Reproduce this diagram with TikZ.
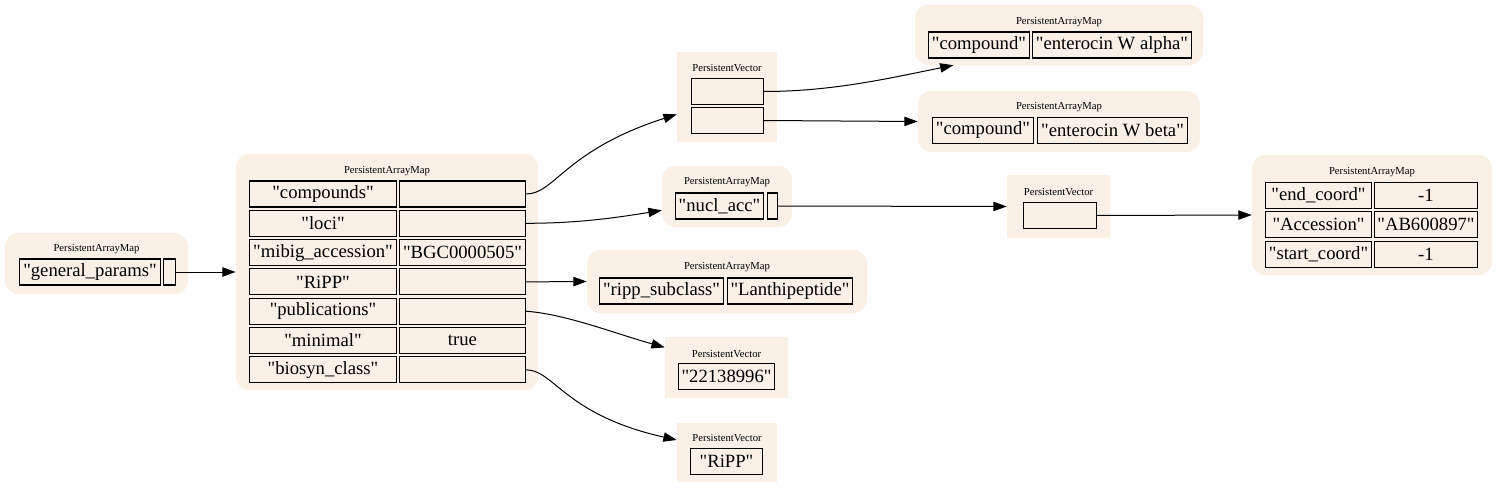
\documentclass[tikz,border=0pt]{standalone}
\usepackage{fontspec}
\setmainfont[Ligatures=TeXOff]{Liberation Serif}
\usepackage{tikz}
\usetikzlibrary{shapes}
\usetikzlibrary{arrows.meta}
\definecolor{linen}{HTML}{FAF0E6}
\tikzset{
	mapbox/.style={fill=linen, rounded corners=10pt, inner sep=0pt},
	vecbox/.style={fill=linen, inner sep=0pt},
	boxsize/.style 2 args={minimum width=#1*0.75pt, minimum height=#2*0.75pt},
	tag/.style={font=\fontsize{8pt}{9pt}\selectfont, inner sep=0pt},
	cell/.style={draw=black, fill=linen, line width=0.8pt, inner sep=0pt, minimum height=26*0.75pt, font=\fontsize{14pt}{16pt}\selectfont},
	cellw/.style={minimum width={(#1-1)*0.75pt}},
	link/.style={line width=0.75pt, -{Triangle[length=10pt,width=7pt]}}
}

\begin{document}
\begin{tikzpicture}[x=0.75pt, y=-0.75pt]
		\useasboundingbox (0,0) rectangle (1497,489);
		\node[mapbox, boxsize={183}{61}] (gpmap) at (96.5,263.5) {};
		\node[tag] (gptag) at (96.5,249) {PersistentArrayMap};
		\node[cell, cellw=142] (gpkey) at (90,272) {"general\_params"};
		\node[cell, cellw=13] (gpval) at (169.5,272) {};

		\node[mapbox, boxsize={302}{236}] (mmap) at (387,272) {};
		\node[tag] (mtag) at (387,171) {PersistentArrayMap};
		\node[cell, cellw=148] (mkcomp) at (323,194) {"compounds"};
		\node[cell, cellw=127] (mvcomp) at (462.5,194) {};
		\node[cell, cellw=148] (mkloci) at (323,223.3) {"loci"};
		\node[cell, cellw=127] (mvloci) at (462.5,223.3) {};
		\node[cell, cellw=148] (mkacc) at (323,252.6) {"mibig\_accession"};
		\node[cell, cellw=127] (mvacc) at (462.5,252.6) {"BGC0000505"};
		\node[cell, cellw=148] (mkripp) at (323,281.9) {"RiPP"};
		\node[cell, cellw=127] (mvripp) at (462.5,281.9) {};
		\node[cell, cellw=148] (mkpub) at (323,311.2) {"publications"};
		\node[cell, cellw=127] (mvpub) at (462.5,311.2) {};
		\node[cell, cellw=148] (mkmin) at (323,340.5) {"minimal"};
		\node[cell, cellw=127] (mvmin) at (462.5,340.5) {true};
		\node[cell, cellw=148] (mkclass) at (323,369.8) {"biosyn\_class"};
		\node[cell, cellw=127] (mvclass) at (462.5,369.8) {};

		\node[vecbox, boxsize={100}{90}] (vcomp) at (727,97) {};
		\node[tag] (vcomptag) at (727,68) {PersistentVector};
		\node[cell, cellw=73] (vcompa) at (727.5,91.5) {};
		\node[cell, cellw=73] (vcompb) at (727.5,120.5) {};

		\node[mapbox, boxsize={288}{60}] (amap) at (1059,35) {};
		\node[tag] (atag) at (1059,22) {PersistentArrayMap};
		\node[cell, cellw=102] (akey) at (979,45) {"compound"};
		\node[cell, cellw=160] (aval) at (1112,45) {"enterocin W alpha"};

		\node[mapbox, boxsize={282}{61}] (bmap) at (1059,121.5) {};
		\node[tag] (btag) at (1059,107) {PersistentArrayMap};
		\node[cell, cellw=102] (bkey) at (983,130.5) {"compound"};
		\node[cell, cellw=151] (bval) at (1112.5,130.5) {"enterocin W beta"};

		\node[mapbox, boxsize={130}{61}] (nmap) at (727,196.5) {};
		\node[tag] (ntag) at (727,182) {PersistentArrayMap};
		\node[cell, cellw=89] (nkey) at (719.5,206) {"nucl\_acc"};
		\node[cell, cellw=11] (nval) at (772.5,206) {};

		\node[vecbox, boxsize={103}{63}] (nvec) at (1058.5,206.5) {};
		\node[tag] (nvectag) at (1058.5,192) {PersistentVector};
		\node[cell, cellw=74] (nveccell) at (1060,215.5) {};

		\node[mapbox, boxsize={240}{120}] (accmap) at (1372,215) {};
		\node[tag] (acctag) at (1372,172) {PersistentArrayMap};
		\node[cell, cellw=107] (kend) at (1318.5,195.5) {"end\_coord"};
		\node[cell, cellw=104] (vend) at (1426,195.5) {-1};
		\node[cell, cellw=107] (kaccn) at (1318.5,224.8) {"Accession"};
		\node[cell, cellw=104] (vaccn) at (1426,224.8) {"AB600897"};
		\node[cell, cellw=107] (kstart) at (1318.5,254.1) {"start\_coord"};
		\node[cell, cellw=104] (vstart) at (1426,254.1) {-1};

		\node[mapbox, boxsize={280}{63}] (rmap) at (727,281.5) {};
		\node[tag] (rtag) at (727,267) {PersistentArrayMap};
		\node[cell, cellw=125] (rkey) at (661.5,291) {"ripp\_subclass"};
		\node[cell, cellw=126] (rval) at (790,291) {"Lanthipeptide"};

		\node[vecbox, boxsize={123}{61}] (pvec) at (726.5,367.5) {};
		\node[tag] (pvectag) at (726.5,354) {PersistentVector};
		\node[cell, cellw=97] (pveccell) at (726.5,376.5) {"22138996"};

		\node[vecbox, boxsize={100}{59}] (cvec) at (727,452.5) {};
		\node[tag] (cvectag) at (727,438) {PersistentVector};
		\node[cell, cellw=73] (cveccell) at (726.5,461.5) {"RiPP"};

		\draw[link] (gpval.east) -- (mmap.west);
		\draw[link] (mvcomp.east) .. controls +(29,0) and +(-112,36) .. (vcomp.199);
		\draw[link] (mvloci.east) .. controls +(50,0) and +(-50,8) .. (nmap.192);
		\draw[link] (mvripp.east) -- (rmap.west);
		\draw[link] (mvpub.east) .. controls +(40,3) and +(-50,-14) .. (pvec.162);
		\draw[link] (mvclass.east) .. controls +(28,0) and +(-112,-25) .. (cvec.166);
		\draw[link] (vcompa.east) .. controls +(70,0) and +(-60,12) .. (amap.196);
		\draw[link] (vcompb.east) -- (bmap.west);
		\draw[link] (nval.east) -- (nvec.west);
		\draw[link] (nveccell.east) -- (accmap.west);
	\end{tikzpicture}
\end{document}
